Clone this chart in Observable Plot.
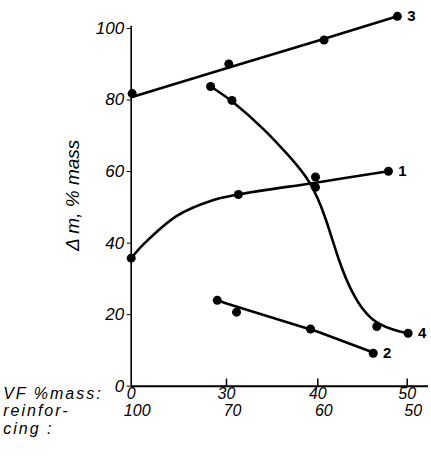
<!DOCTYPE html>
<html>
<head>
<meta charset="utf-8">
<script src="https://cdn.jsdelivr.net/npm/d3@7"></script>
<script src="https://cdn.jsdelivr.net/npm/@observablehq/plot@0.6"></script>
<style>
  html, body { margin: 0; padding: 0; background: #fff; }
  svg { display: block; }
</style>
</head>
<body>
<div id="chart"></div>
<script>
// ---- tick labels ----
const xTicks = [0, 30, 40, 50];
const vfLabels = ["0", "30", "40", "50"];
const reinfLabels = ["100", "70", "60", "50"];
const yTicks = [0, 20, 40, 60, 80, 100];
const yTitle = "Δ m, % mass";
const rowTitles = ["VF %mass:", "reinfor-", "cing :"];

// ---- measured points (VF %mass, Δm %) ----
const s1x = [0, 31.3, 39.75, 47.9];
const s1y = [35.8, 53.6, 58.5, 60.1];
const s2x = [27.1, 31.1, 39.2, 46.2];
const s2y = [24.0, 20.7, 16.0, 9.2];
const s3x = [0.3, 30.25, 40.7, 48.9];
const s3y = [81.8, 90.1, 96.8, 103.4];
const s4x = [25.0, 30.6, 39.75, 46.6, 50.1];
const s4y = [83.8, 79.9, 55.6, 16.7, 14.8];

// ---- drawn (fitted) curves ----
const c1x = [0, 4.0, 14.5, 25.0, 31.3, 39.75, 47.9];
const c1y = [35.8, 39.8, 47.7, 51.8, 53.6, 56.9, 60.1];
const c2x = [27.1, 30, 40, 46.2];
const c2y = [24.0, 23.1, 15.2, 9.4];
const c3x = [0, 30, 40, 48.9];
const c3y = [80.8, 88.9, 96.6, 103.4];
const c4x = [25.0, 30.6, 34.3, 36.8, 39.2, 40.9, 42.3, 44.0, 45.9, 48.5, 50.1];
const c4y = [83.8, 79.9, 71.5, 64.5, 57.5, 47.3, 35.1, 24.9, 18.3, 15.6, 14.8];

const curveNames = ["1", "2", "3", "4"];

const zip = (xs, ys) => xs.map((x, i) => ({x, y: ys[i]}));
const pts = [zip(s1x, s1y), zip(s2x, s2y), zip(s3x, s3y), zip(s4x, s4y)];
const curves = [zip(c1x, c1y), zip(c2x, c2y), zip(c3x, c3y), zip(c4x, c4y)];
const curveTypes = ["catmull-rom", "linear", "linear", "basis"];
const allPts = pts.flat();
const ends = pts.map((p, i) => ({...p[p.length - 1], name: curveNames[i]}));
const vfMap = new Map(xTicks.map((t, i) => [t, vfLabels[i]]));
const reMap = new Map(xTicks.map((t, i) => [t, reinfLabels[i]]));

const font = "'Liberation Sans', 'DejaVu Sans', sans-serif";
const rowStep = 17.5;

const chart = Plot.plot({
  width: 431,
  height: 457,
  marginLeft: 130.7,
  marginRight: 3,
  marginTop: 28,
  marginBottom: 71.3,
  x: {type: "linear", domain: xTicks, range: [130.7, 226, 317.3, 406.7]},
  y: {domain: [0, 100], range: [385.7, 28]},
  style: {fontFamily: font, fontStyle: "italic", fontSize: "16px", background: "#fff", color: "#000"},
  marks: [
    Plot.ruleY([0], {stroke: "#000", strokeWidth: 2}),
    Plot.ruleX([0], {y1: 0, y2: 100.6, stroke: "#000", strokeWidth: 1.6}),
    Plot.ruleX(xTicks.slice(1), {y1: 0, y2: 2, stroke: "#000", strokeWidth: 1.5}),
    Plot.axisY(yTicks, {tickSize: 4, tickPadding: 3, fontSize: 17, label: null}),
    Plot.axisX(xTicks, {tickSize: 0, tickPadding: 1, fontSize: 16, label: null, lineAnchor: "top",
      tickFormat: d => vfMap.get(d)}),
    Plot.axisX(xTicks, {tickSize: 0, tickPadding: 1 + rowStep, fontSize: 16, label: null, lineAnchor: "top",
      tickFormat: d => reMap.get(d), dx: 6}),
    ...rowTitles.map((t, i) => Plot.text([t], {frameAnchor: "bottom-left", textAnchor: "start",
      lineAnchor: "top", dx: -128, dy: 1 + i * rowStep, fontSize: 16})),
    Plot.text([yTitle], {frameAnchor: "left", textAnchor: "middle", rotate: -90, dx: -58, dy: -12,
      fontSize: 19}),
    ...curves.map((c, i) => Plot.line(c, {x: "x", y: "y", stroke: "#000", strokeWidth: 2.6,
      curve: curveTypes[i]})),
    Plot.dot(allPts, {x: "x", y: "y", r: 4.5, fill: "#000", stroke: "none"}),
    Plot.text(ends, {x: "x", y: "y", text: "name", dx: 14, fontSize: 15, fontWeight: "bold",
      fontStyle: "normal", textAnchor: "middle"})
  ]
});
document.getElementById("chart").append(chart);
// widen the hand-lettered row titles like the reference
d3.select(chart).selectAll("text").filter(function() {
  return rowTitles.includes(this.textContent);
}).attr("letter-spacing", "2px");
</script>
</body>
</html>
